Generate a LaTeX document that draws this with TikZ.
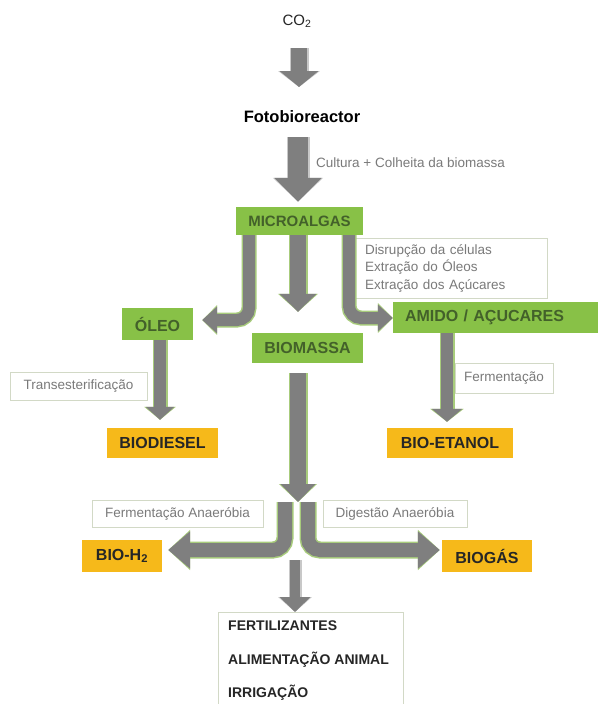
\documentclass[tikz,border=0pt]{standalone}
\usepackage{fontspec}
\setmainfont{Liberation Sans}
\usetikzlibrary{arrows.meta,calc}
\definecolor{boxgreen}{HTML}{88C147}
\definecolor{greentext}{HTML}{43612A}
\definecolor{boxorange}{HTML}{F6B91A}
\definecolor{arrgray}{HTML}{7F7F7F}
\definecolor{glowgreen}{HTML}{A8CC7C}
\definecolor{shadowgray}{HTML}{C8C8C8}
\definecolor{notegray}{HTML}{7A7A7A}
\definecolor{noteborder}{HTML}{D2D9C6}
\newcommand\flowarrow[4]{%
  \draw[draw=#1, line width=#2+3pt, #3, rounded corners=12pt] #4;
  \draw[draw=arrgray, line width=#2, #3, rounded corners=12pt] #4;}
\tikzset{
  greenbox/.style={fill=boxgreen, text=greentext, inner sep=0pt,
    font=\bfseries\fontsize{16}{19}\selectfont},
  orangebox/.style={fill=boxorange, text=black!85, inner sep=0pt,
    font=\bfseries\fontsize{16}{19}\selectfont},
  notebox/.style={draw=noteborder, line width=1pt, text=notegray, inner sep=0pt,
    font=\fontsize{13.5}{17.5}\selectfont},
  notetext/.style={text=notegray, inner sep=0pt, font=\fontsize{13.5}{17.5}\selectfont},
  listtext/.style={text=black!85, inner sep=0pt, font=\bfseries\fontsize{14}{17}\selectfont},
}
\begin{document}
\begin{tikzpicture}[x=1pt,y=-1pt]
\useasboundingbox (0,0) rectangle (602,704);
\fill[white] (0,0) rectangle (602,704);
\clip (0,0) rectangle (602,704);

% nodes
\node[inner sep=0pt, text=black!85, font=\fontsize{15}{18}\selectfont] (co2) at (297,21) {CO\textsubscript{2}};
\node[inner sep=0pt, text=black, font=\bfseries\fontsize{16.5}{20}\selectfont] (foto) at (302,117) {Fotobioreactor};
\node[notetext, anchor=west] (cult) at (316,163) {Cultura + Colheita da biomassa};
\node[greenbox, minimum width=127pt, minimum height=28pt, font=\bfseries\fontsize{15}{18}\selectfont] (micro) at (299.5,221) {MICROALGAS};
\node[notebox, text width=172pt, align=left, inner xsep=10pt, minimum height=60pt] (disr) at (451,268)
  {Disrupção da células\\Extração do Óleos\\Extração dos Açúcares};
\node[greenbox, minimum width=71pt, minimum height=32pt] (oleo) at (157.5,324) {ÓLEO};
\node[greenbox, minimum width=205pt, minimum height=31pt, text width=181pt, align=left, inner xsep=12pt] (amido) at (495.5,317.5) {AMIDO / AÇUCARES};
\node[greenbox, minimum width=111pt, minimum height=30pt] (biomassa) at (307.5,348) {BIOMASSA};
\node[notebox, minimum width=137pt, minimum height=28pt] (trans) at (78.5,386) {Transesterificação};
\node[notebox, minimum width=98pt, minimum height=30pt] (ferm) at (504,378) {Fermentação};
\node[orangebox, minimum width=111pt, minimum height=30pt] (biodiesel) at (162.5,443) {BIODIESEL};
\node[orangebox, minimum width=126pt, minimum height=30pt] (bioetanol) at (450,443) {BIO-ETANOL};
\node[notebox, minimum width=171pt, minimum height=27pt] (fanaer) at (177.5,513.5) {Fermentação Anaeróbia};
\node[notebox, minimum width=144pt, minimum height=27pt] (danaer) at (395,513.5) {Digestão Anaeróbia};
\node[orangebox, minimum width=80pt, minimum height=32pt] (bioh2) at (122,556) {BIO-H\textsubscript{2}};
\node[orangebox, minimum width=90pt, minimum height=32pt] (biogas) at (487,556) {BIOGÁS};
\node[draw=noteborder, line width=1pt, minimum width=185pt, minimum height=100pt, anchor=north, inner sep=0pt] (uses) at (310.5,612) {};
\node[listtext, anchor=west] (fert) at (228,626) {FERTILIZANTES};
\node[listtext, anchor=west] (alim) at (228,660) {ALIMENTAÇÃO ANIMAL};
\node[listtext, anchor=west] (irri) at (228,693) {IRRIGAÇÃO};
\coordinate (split) at (298,502);

% connectors
\flowarrow{shadowgray}{16pt}{-{Triangle[width=22pt 1,length=16pt]}}
  {($(co2.center)+(2,27)$) -- ($(foto.center)+(-3,-30)$)}
\flowarrow{shadowgray}{20pt}{-{Triangle[width=26pt 1,length=24pt]}}
  {($(foto.center)+(-4,20)$) -- ($(micro.north)+(-1.5,-5)$)}
\flowarrow{glowgreen}{12pt}{-{Triangle[width=14pt 1,length=15pt]}}
  {($(micro.south)+(-50.5,0)$) |- ($(oleo.east)+(9,-4)$)}
\flowarrow{glowgreen}{16pt}{-{Triangle[width=20pt 1,length=18pt]}}
  {($(micro.south)+(-1.5,0)$) -- ($(biomassa.north)+(-9.5,-21)$)}
\flowarrow{glowgreen}{12pt}{-{Triangle[width=14pt 1,length=15pt]}}
  {($(micro.south)+(49.5,0)$) |- ($(amido.west)+(0,0.5)$)}
\flowarrow{glowgreen}{12pt}{-{Triangle[width=16pt 1,length=13pt]}}
  {($(oleo.south)+(2.5,0)$) -- ($(biodiesel.north)+(-2.5,-8)$)}
\flowarrow{glowgreen}{12pt}{-{Triangle[width=18pt 1,length=13pt]}}
  {($(amido.south)+(-48.5,0)$) -- ($(bioetanol.north)+(-3,-6)$)}
\flowarrow{glowgreen}{16pt}{-{Triangle[width=18pt 1,length=18pt]}}
  {($(biomassa.south)+(-9.5,10)$) -- (split)}
\flowarrow{glowgreen}{14pt}{-{Triangle[width=22pt 1,length=22pt]}}
  {($(split)+(-13,0)$) |- ($(bioh2.east)+(6,-6)$)}
\flowarrow{glowgreen}{14pt}{-{Triangle[width=22pt 1,length=22pt]}}
  {($(split)+(10,0)$) |- ($(biogas.west)+(-2,-6)$)}
\flowarrow{shadowgray}{10pt}{-{Triangle[width=20pt 1,length=15pt]}}
  {($(split)+(-3,58)$) -- ($(uses.north)+(-15.5,0)$)}
\end{tikzpicture}
\end{document}
